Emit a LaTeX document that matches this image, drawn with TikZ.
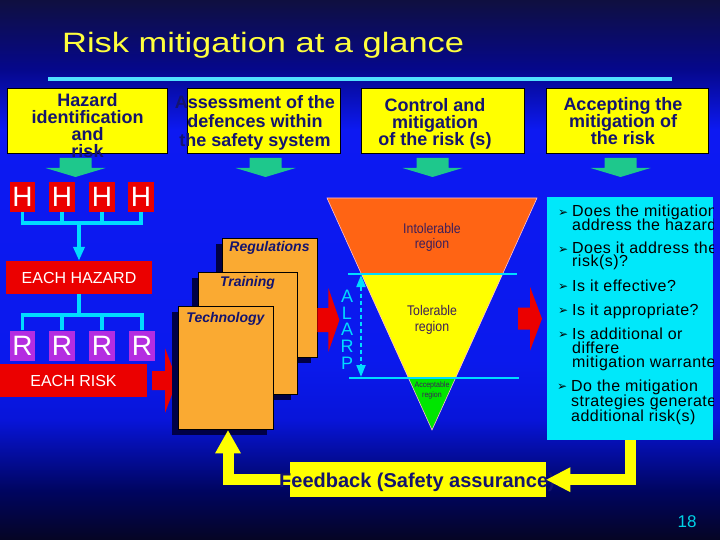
\documentclass[tikz,border=0pt]{standalone}
\usepackage{fontspec}
\setmainfont{Liberation Sans}
\newfontfamily\dejavu{DejaVu Sans}
\newfontfamily\qfont[LetterSpace=3]{Liberation Sans}
\usetikzlibrary{calc,arrows.meta,shadows}

\definecolor{navytxt}{RGB}{20,20,110}
\definecolor{boxyellow}{RGB}{255,255,0}
\definecolor{fbyellow}{RGB}{255,255,0}
\definecolor{arrgreen}{RGB}{30,200,140}
\definecolor{hred}{RGB}{235,0,0}
\definecolor{rpurple}{RGB}{180,45,225}
\definecolor{linecyan}{RGB}{0,220,255}
\definecolor{titleline}{RGB}{80,225,255}
\definecolor{cardorange}{RGB}{250,170,50}
\definecolor{shadowblue}{RGB}{0,0,70}
\definecolor{triorange}{RGB}{255,100,20}
\definecolor{trigreen}{RGB}{0,230,0}
\definecolor{triedgec}{RGB}{255,190,210}
\definecolor{tritextc}{RGB}{60,30,90}
\definecolor{qcyan}{RGB}{0,232,250}
\definecolor{titleyellow}{RGB}{255,255,60}
\definecolor{pagecyan}{RGB}{0,210,230}

\pgfdeclareverticalshading{bgshade}{100bp}{%
rgb(0bp)=(0.02,0.02,0.14);
rgb(25bp)=(0.02,0.02,0.14);
rgb(29.63bp)=(0,0.02,0.38);
rgb(36.11bp)=(0.03,0.08,0.85);
rgb(41.67bp)=(0.04,0.1,0.93);
rgb(62.96bp)=(0.05,0.1,0.95);
rgb(68.52bp)=(0.02,0.03,0.55);
rgb(75bp)=(0.06,0.06,0.25);
rgb(100bp)=(0.06,0.06,0.25)}

\tikzset{
 topbox/.style={draw=black, line width=1pt, fill=boxyellow, inner sep=0pt, anchor=north west},
 toptext/.style={font=\bfseries\fontsize{18}{17}\selectfont, text=navytxt, align=center, inner sep=0pt, anchor=north},
 hbox/.style={fill=hred, text=white, font=\fontsize{28}{28}\selectfont, minimum width=25.5pt, minimum height=30pt, inner sep=0pt},
 rbox/.style={hbox, fill=rpurple},
 redbar/.style={fill=hred, text=white, font=\fontsize{16}{16}\selectfont, inner sep=0pt},
 cline/.style={draw=linecyan, line width=3.5pt},
 card/.style={draw=black, line width=0.8pt, fill=cardorange, inner sep=0pt,
   drop shadow={shadow xshift=-6pt, shadow yshift=-6pt, fill=shadowblue, opacity=1}},
 cardtext/.style={font=\bfseries\itshape\fontsize{14}{14}\selectfont, text=navytxt, inner sep=0pt, anchor=base},
 tritext/.style={text=tritextc, align=center, inner sep=0pt, anchor=north},
 alarpline/.style={draw=linecyan, line width=2pt},
 qtext/.style={font=\qfont\fontsize{16}{13}\selectfont, text=black, anchor=base west, inner sep=0pt},
 qbullet/.style={font=\dejavu\fontsize{12}{12}\selectfont, text=black, anchor=base west, inner sep=0pt},
 fbline/.style={draw=fbyellow, line width=11pt},
 pics/downarr/.style={code={\fill[arrgreen] (-16,0) -- (16,0) -- (16,10) -- (30,10) -- (0,19) -- (-30,10) -- (-16,10) -- cycle;}},
 pics/redarr/.style n args={4}{code={\fill[hred] (0,-#2) -- (#1,-#2) -- (#1,-#4) -- (#1+#3,0) -- (#1,#4) -- (#1,#2) -- (0,#2) -- cycle;}},
}

\begin{document}
\begin{tikzpicture}[x=1pt,y=-1pt]
\useasboundingbox (0,0) rectangle (720,540);
\shade[shading=bgshade] (0,0) rectangle (720,540);

% title
\node[font=\fontsize{28}{28}\selectfont, text=titleyellow, anchor=base west, inner sep=0pt] (title) at (62,53) {\scalebox{1.23}[1]{Risk mitigation at a glance}};
\coordinate (tlA) at (48,79);
\coordinate (tlB) at (672,79);
\draw[draw=titleline, line width=4pt] (tlA) -- (tlB);

% top boxes
\node[topbox, minimum width=160pt, minimum height=65pt] (b1) at (7,88) {};
\node[topbox, minimum width=153pt, minimum height=65pt] (b2) at (187,88) {};
\node[topbox, minimum width=163pt, minimum height=65pt] (b3) at (361,88) {};
\node[topbox, minimum width=162pt, minimum height=65pt] (b4) at (546,88) {};
\node[toptext] (t1) at (87.5,93) {Hazard\\identification\\and\\risk};
\node[toptext, font=\bfseries\fontsize{18}{19}\selectfont] (t2) at (255,95) {Assessment of the\\defences within\\the safety system};
\node[toptext] (t3) at (435,98) {Control and\\mitigation\\of the risk (s)};
\node[toptext] (t4) at (623,97) {Accepting the\\mitigation of\\the risk};

\pic at ($(b1.south)+(-12,4)$) {downarr};
\pic at ($(b2.south)+(1.5,4)$) {downarr};
\pic at ($(b3.south)+(-10.5,4)$) {downarr};
\pic at ($(b4.south)+(-7,4)$) {downarr};

% hazards
\node[hbox] (h1) at (22.5,197) {H};
\node[hbox] (h2) at (62,197) {H};
\node[hbox] (h3) at (102,197) {H};
\node[hbox] (h4) at (141,197) {H};
\node[redbar, minimum width=146pt, minimum height=33pt] (eh) at (79,277.5) {EACH HAZARD};
\coordinate (hbar) at (79,223);
\draw[cline] (h1.south) -- (h1.south |- hbar) -- (h4.south |- hbar) -- (h4.south);
\draw[cline] (h2.south) -- (h2.south |- hbar);
\draw[cline] (h3.south) -- (h3.south |- hbar);
\draw[cline, -{Triangle[width=11pt,length=14pt]}] (eh.north |- hbar) -- (eh.north);

% risks
\node[rbox] (r1) at (22.5,345.5) {R};
\node[rbox] (r2) at (62,345.5) {R};
\node[rbox] (r3) at (102,345.5) {R};
\node[rbox] (r4) at (142,345.5) {R};
\coordinate (rbar) at (79,315);
\draw[cline] (eh.south) -- (rbar);
\draw[cline] (r1.north) -- (r1.north |- rbar) -- (r4.north |- rbar) -- (r4.north);
\draw[cline] (r2.north) -- (r2.north |- rbar);
\draw[cline] (r3.north) -- (r3.north |- rbar);
\node[redbar, minimum width=147pt, minimum height=33pt] (er) at (73.5,380.5) {EACH RISK};

\pic at ($(er.east)+(5,0)$) {redarr={13}{9.5}{12}{32}};

% cards
\node[card, minimum width=95pt, minimum height=119pt] (reg) at (269.5,297.5) {};
\node[cardtext] (regt) at ($(reg.north)+(0,14)$) {Regulations};
\node[card, minimum width=99pt, minimum height=122pt] (trn) at (247.5,333) {};
\node[cardtext] (trnt) at ($(trn.north)+(0,15)$) {Training};
\node[card, minimum width=95pt, minimum height=123pt] (tech) at (225.5,367.5) {};
\node[cardtext] (techt) at ($(tech.north)+(0,17)$) {Technology};

\pic at ($(reg.east)+(0,22.5)$) {redarr={11}{12}{11}{32}};

% triangle
\coordinate (tl) at (327,198);
\coordinate (tr) at (537,198);
\coordinate (ap) at (432,430);
\fill[triorange] (tl) -- (tr) -- ($(tr)!0.3276!(ap)$) -- ($(tl)!0.3276!(ap)$) -- cycle;
\fill[boxyellow] ($(tl)!0.3276!(ap)$) -- ($(tr)!0.3276!(ap)$) -- ($(tr)!0.7759!(ap)$) -- ($(tl)!0.7759!(ap)$) -- cycle;
\fill[trigreen] ($(tl)!0.7759!(ap)$) -- ($(tr)!0.7759!(ap)$) -- (ap) -- cycle;
\draw[draw=triedgec, line width=0.6pt] (tl) -- (tr) -- (ap) -- cycle;
\coordinate (uA) at (348,274);
\coordinate (uB) at (517,274);
\coordinate (lA) at (349,378);
\coordinate (lB) at (519,378);
\draw[alarpline] (uA) -- (uB);
\draw[alarpline] (lA) -- (lB);
\coordinate (dA) at (361,275);
\coordinate (dB) at (361,377);
\draw[alarpline, dash pattern=on 4pt off 3pt, {Triangle[width=9pt,length=12pt]}-{Triangle[width=9pt,length=12pt]}] (dA) -- (dB);
\node[font=\fontsize{18}{16.7}\selectfont, text=linecyan, align=center, inner sep=0pt, anchor=north] (alarp) at (347,290) {A\\L\\A\\R\\P};
\node[tritext, font=\fontsize{14}{15.5}\selectfont] (intol) at (432,223) {\scalebox{0.88}[1]{Intolerable}\\\scalebox{0.88}[1]{region}};
\node[tritext, font=\fontsize{14}{16.5}\selectfont] (tol) at (432,305) {\scalebox{0.88}[1]{Tolerable}\\\scalebox{0.88}[1]{region}};
\node[tritext, font=\fontsize{8}{10}\selectfont] (acc) at (432,382) {\scalebox{0.88}[1]{Acceptable}\\\scalebox{0.88}[1]{region}};

% right box
\node[fill=qcyan, minimum width=166pt, minimum height=243pt, inner sep=0pt, anchor=north west] (qbox) at (547,197) {};
\pic at ($(qbox.west)+(-29,0)$) {redarr={12}{11}{12}{32}};
\begin{scope}
\clip (qbox.south west) rectangle (qbox.north east);
\node[qbullet] (bu1) at (558,216) {➢};
\node[qtext] (q1) at (572,217) {Does the mitigation};
\node[qtext] (q2) at (572,230) {address the hazard?};
\node[qbullet] (bu2) at (558,253) {➢};
\node[qtext] (q3) at (572,254) {Does it address the};
\node[qtext] (q4) at (572,266) {risk(s)?};
\node[qbullet] (bu3) at (558,290) {➢};
\node[qtext] (q5) at (572,291) {Is it effective?};
\node[qbullet] (bu4) at (558,314) {➢};
\node[qtext] (q6) at (572,315) {Is it appropriate?};
\node[qbullet] (bu5) at (558,338) {➢};
\node[qtext] (q7) at (572,339) {Is additional or};
\node[qtext] (q8) at (572,353) {differe};
\node[qtext] (q9) at (572,367) {mitigation warranted?};
\node[qbullet] (bu6) at (557,390) {➢};
\node[qtext] (q10) at (571,391) {Do the mitigation};
\node[qtext] (q11) at (571,406) {strategies generate};
\node[qtext] (q12) at (571,421) {additional risk(s)};
\end{scope}

% feedback loop
\node[fill=fbyellow, minimum width=256pt, minimum height=35pt, inner sep=0pt, anchor=north west] (fb) at (290,462) {};
\coordinate (fbR) at (qbox.south |- fb.east);
\coordinate (fbHead) at ($(fb.east)+(24,0)$);
\coordinate (fbL) at ($(tech.south)+(2.5,0)$);
\coordinate (fbLc) at (fbL |- fb.west);
\coordinate (fbLhead) at ($(fbL)+(0,24)$);
\draw[fbline] (qbox.south) -- (fbR) -- (fbHead);
\draw[fbline] (fb.west) -- (fbLc) -- (fbLhead);
\fill[fbyellow] (fb.north west) rectangle (fb.south east);
\node[font=\bfseries\fontsize{20}{20}\selectfont, text=navytxt, anchor=base, inner sep=0pt] (fbt) at (417,487) {Feedback (Safety assurance)};
\fill[fbyellow] ($(fbHead)+(0,-12.5)$) -- (fb.east) -- ($(fbHead)+(0,12.5)$) -- cycle;
\fill[fbyellow] ($(fbLhead)+(-13,0)$) -- ($(fbL)+(0,1)$) -- ($(fbLhead)+(13,0)$) -- cycle;

\node[font=\fontsize{17}{17}\selectfont, text=pagecyan, anchor=base, inner sep=0pt] (pg) at (687,527) {18};
\end{tikzpicture}
\end{document}
